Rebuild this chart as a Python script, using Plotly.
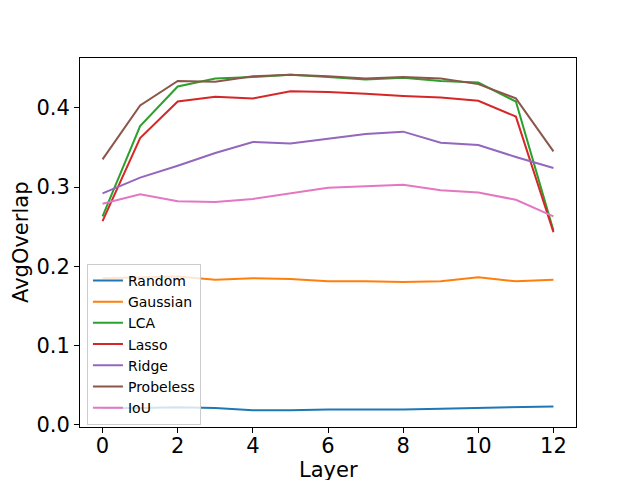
import plotly.graph_objects as go

layers = list(range(13))
random_vals = [0.021, 0.021, 0.022, 0.021, 0.018, 0.018, 0.019, 0.019, 0.019, 0.020, 0.021, 0.022, 0.023]
gaussian = [0.185, 0.186, 0.187, 0.183, 0.185, 0.184, 0.181, 0.181, 0.180, 0.181, 0.186, 0.181, 0.183]
lca = [0.263, 0.377, 0.427, 0.437, 0.439, 0.442, 0.439, 0.436, 0.438, 0.434, 0.432, 0.408, 0.245]
lasso = [0.257, 0.362, 0.408, 0.414, 0.412, 0.421, 0.420, 0.418, 0.415, 0.413, 0.409, 0.389, 0.243]
ridge = [0.292, 0.312, 0.327, 0.343, 0.357, 0.355, 0.361, 0.367, 0.370, 0.356, 0.353, 0.338, 0.324]
probeless = [0.335, 0.403, 0.434, 0.433, 0.440, 0.442, 0.440, 0.437, 0.439, 0.437, 0.430, 0.412, 0.345]
iou = [0.279, 0.291, 0.282, 0.281, 0.285, 0.292, 0.299, 0.301, 0.303, 0.296, 0.293, 0.284, 0.263]

series = [("Random", random_vals, "#1f77b4"),
          ("Gaussian", gaussian, "#ff7f0e"),
          ("LCA", lca, "#2ca02c"),
          ("Lasso", lasso, "#d62728"),
          ("Ridge", ridge, "#9467bd"),
          ("Probeless", probeless, "#8c564b"),
          ("IoU", iou, "#e377c2")]

fig = go.Figure()
for name, vals, col in series:
    fig.add_trace(go.Scatter(x=layers, y=vals, name=name, mode="lines",
                             line=dict(color=col, width=2)))

axis_style = dict(showline=True, linecolor="black", linewidth=1, mirror=True,
                  ticks="outside", ticklen=5, tickcolor="black", showgrid=False,
                  zeroline=False, automargin=False, tickfont=dict(size=21, color="black"))

# page body has an 8px margin, so the plot box is shifted up/left by that much
fig.update_layout(
    width=640, height=480,
    margin=dict(l=72, r=72, t=50, b=61),
    paper_bgcolor="white", plot_bgcolor="white",
    font=dict(family="DejaVu Sans", color="black"),
    showlegend=True,
    legend=dict(x=0.014, y=0.224, xanchor="left", yanchor="middle",
                bgcolor="rgba(255,255,255,0.8)", bordercolor="#cccccc", borderwidth=1,
                font=dict(size=14), tracegroupgap=0, itemwidth=30),
)
fig.update_xaxes(range=[-0.6, 12.6], tickvals=[0, 2, 4, 6, 8, 10, 12],
                 ticklabelstandoff=-5, **axis_style)
fig.update_yaxes(range=[-0.003, 0.463], tickvals=[0.0, 0.1, 0.2, 0.3, 0.4], tickformat=".1f",
                 **axis_style)

fig.add_annotation(text="Layer", xref="paper", yref="paper", x=0.5, y=-0.117,
                   xanchor="center", yanchor="middle", showarrow=False, font=dict(size=21))
fig.add_annotation(text="AvgOverlap", xref="paper", yref="paper", x=-0.12, y=0.5,
                   xanchor="center", yanchor="middle", textangle=-90, showarrow=False,
                   font=dict(size=21))

fig.write_html("out.html")
